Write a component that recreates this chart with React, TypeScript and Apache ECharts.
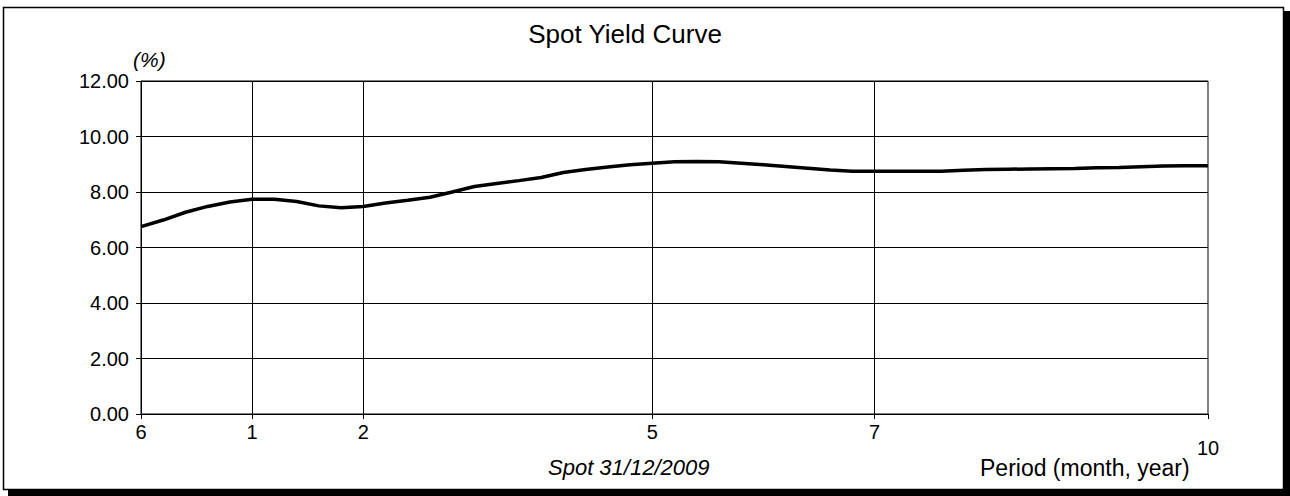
import { useEffect, useRef } from "react";
import * as echarts from "echarts";

// Tick labels on the period axis and the category index where each one sits
const periodTickLabels = ["6", "1", "2", "5", "7", "10"];
const periodTickIndex = [0, 5, 10, 23, 33, 48];
// Category indexes that carry a vertical grid line
const periodGridIndex = [5, 10, 23, 33];

// Spot yield (%), one value per category step
const spotYields = [
  6.75, 6.99, 7.27, 7.48, 7.64, 7.74, 7.74, 7.66, 7.5, 7.43,
  7.48, 7.6, 7.7, 7.81, 8.0, 8.2, 8.31, 8.41, 8.52, 8.7,
  8.81, 8.9, 8.98, 9.04, 9.09, 9.1, 9.09, 9.04, 8.98, 8.92,
  8.86, 8.79, 8.75, 8.75, 8.75, 8.75, 8.75, 8.78, 8.81, 8.82,
  8.83, 8.84, 8.85, 8.87, 8.88, 8.91, 8.94, 8.95, 8.95,
];

const yMin = 0;
const yMax = 12;
const yStep = 2;

const FONT = "'Liberation Sans', Arial, Helvetica, sans-serif";

export default function App() {
  const ref = useRef<HTMLDivElement>(null);

  useEffect(() => {
    if (!ref.current) return;
    const chart = echarts.init(ref.current, null, { renderer: "svg" });
    const categories = spotYields.map((_, i) => String(i));
    const lastIdx = periodTickIndex[periodTickIndex.length - 1];
    const labelAt = (i: number) => {
      const k = periodTickIndex.indexOf(i);
      return k >= 0 ? periodTickLabels[k] : "";
    };

    chart.setOption({
      animation: false,
      backgroundColor: "#ffffff",
      textStyle: { fontFamily: FONT, color: "#000" },
      title: {
        text: "Spot Yield Curve",
        left: 625,
        top: 21,
        textAlign: "center",
        padding: 0,
        textStyle: { fontFamily: FONT, fontSize: 26, fontWeight: "normal", color: "#000" },
      },
      grid: {
        left: 141,
        right: 82,
        top: 81,
        bottom: 82,
        show: true,
        borderColor: "#000",
        borderWidth: 1,
        backgroundColor: "transparent",
      },
      xAxis: {
        type: "category",
        data: categories,
        boundaryGap: false,
        axisLine: { show: true, lineStyle: { color: "#000", width: 1 } },
        axisTick: {
          show: true,
          length: 5,
          interval: (i: number) => periodTickIndex.includes(i),
          lineStyle: { color: "#000" },
        },
        axisLabel: {
          interval: (i: number) => periodTickIndex.includes(i),
          formatter: (_v: string, i: number) =>
            i === lastIdx ? `{low|${labelAt(i)}}` : labelAt(i),
          margin: 8,
          fontSize: 20,
          fontFamily: FONT,
          color: "#000",
          rich: {
            low: { fontSize: 20, fontFamily: FONT, color: "#000", padding: [16, 0, 0, 0] },
          },
        },
        splitLine: {
          show: true,
          interval: (i: number) => periodGridIndex.includes(i),
          lineStyle: { color: "#000", width: 1 },
        },
      },
      yAxis: {
        type: "value",
        min: yMin,
        max: yMax,
        interval: yStep,
        name: "(%)",
        nameLocation: "end",
        nameGap: 11,
        nameTextStyle: {
          fontFamily: FONT,
          fontStyle: "italic",
          fontSize: 21,
          color: "#000",
          align: "left",
          padding: [0, 0, 0, -8],
        },
        axisLine: { show: true, lineStyle: { color: "#000", width: 1 } },
        axisTick: { show: true, length: 5, lineStyle: { color: "#000" } },
        axisLabel: {
          formatter: (v: number) => v.toFixed(2),
          margin: 12,
          fontSize: 20,
          fontFamily: FONT,
          color: "#000",
        },
        splitLine: { show: true, lineStyle: { color: "#000", width: 1 } },
      },
      series: [
        {
          type: "line",
          data: spotYields,
          showSymbol: false,
          symbol: "none",
          smooth: false,
          lineStyle: { color: "#000", width: 3.5 },
          z: 5,
        },
      ],
      graphic: [
        {
          type: "rect",
          silent: true,
          z: -10,
          shape: { x: 3.5, y: 7.5, width: 1280, height: 482 },
          style: { fill: "none", stroke: "#000", lineWidth: 1.5 },
        },
        {
          type: "rect",
          silent: true,
          shape: { x: 1284, y: 11, width: 6, height: 485 },
          style: { fill: "#000" },
        },
        {
          type: "rect",
          silent: true,
          shape: { x: 8, y: 490, width: 1282, height: 6 },
          style: { fill: "#000" },
        },
        {
          type: "text",
          left: 548,
          top: 456,
          style: {
            text: "Spot 31/12/2009",
            fontFamily: FONT,
            fontStyle: "italic",
            fontSize: 22,
            fill: "#000",
          },
        },
        {
          type: "text",
          left: 980,
          top: 456,
          style: {
            text: "Period (month, year)",
            fontFamily: FONT,
            fontSize: 23,
            fill: "#000",
          },
        },
      ],
    });

    return () => chart.dispose();
  }, []);

  return (
    <div
      ref={ref}
      style={{ position: "absolute", left: 0, top: 0, width: 1290, height: 496, background: "#fff" }}
    />
  );
}
